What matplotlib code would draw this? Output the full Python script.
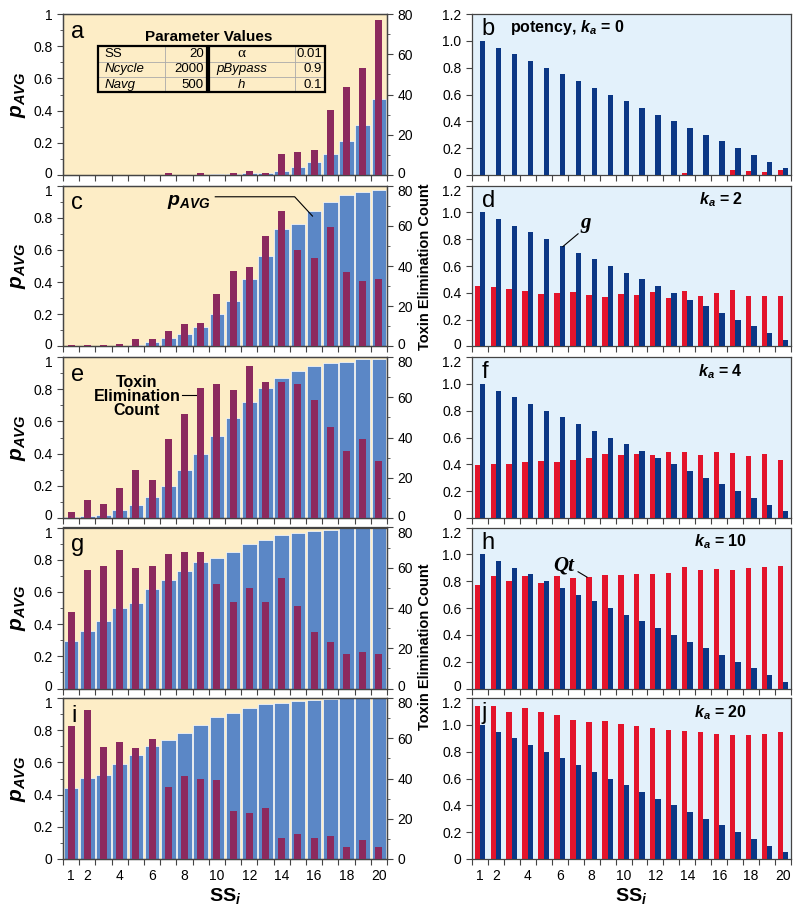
import numpy as np
import matplotlib
matplotlib.use("Agg")
import matplotlib.pyplot as plt
import matplotlib.transforms as mtrans
from matplotlib.patches import Rectangle

plt.rcParams['font.family'] = ['Liberation Sans', 'DejaVu Sans']
plt.rcParams['mathtext.fontset'] = 'custom'
plt.rcParams['mathtext.rm'] = 'Liberation Sans'
plt.rcParams['mathtext.it'] = 'Liberation Sans:italic'
plt.rcParams['mathtext.bf'] = 'Liberation Sans:bold'
plt.rcParams['mathtext.bfit'] = 'Liberation Sans:bold:italic'

# 数据
ss = np.arange(1, 21)
xlab_pos = [1, 2, 4, 6, 8, 10, 12, 14, 16, 18, 20]
xlab_txt = ['1', '2', '4', '6', '8', '10', '12', '14', '16', '18', '20']

# left column: pAVG (blue) and toxin elimination count (purple)
p_a = [0, 0, 0, 0, 0, 0, 0, 0, 0, 0.005, 0.005, 0.01, 0.015, 0.025, 0.05, 0.08, 0.13, 0.21, 0.31, 0.47]
cnt_a = [0, 0, 0, 0, 0, 0, 1.2, 0, 1, 0, 1, 2, 1, 10.3, 11.3, 12.3, 32.5, 43.7, 53.3, 76.8]
p_c = [0, 0, 0.003, 0.005, 0.01, 0.03, 0.05, 0.08, 0.12, 0.2, 0.28, 0.42, 0.56, 0.73, 0.76, 0.84, 0.9, 0.94, 0.96, 0.97]
cnt_c = [0.7, 0.7, 0.7, 1.3, 3.5, 3.5, 7.5, 11.2, 11.7, 26, 37.7, 39.4, 55, 67.3, 47.8, 44, 59.2, 36.9, 32.7, 33.6]
p_e = [0.005, 0.01, 0.02, 0.05, 0.08, 0.13, 0.2, 0.3, 0.4, 0.51, 0.62, 0.72, 0.81, 0.87, 0.91, 0.945, 0.96, 0.97, 0.985, 0.99]
cnt_e = [3, 9, 7, 15, 24, 19, 39.3, 51.5, 64.4, 66.6, 63.6, 75.6, 67.6, 67.6, 66.8, 58.6, 45.2, 33.3, 39.2, 28.1]
p_g = [0.296, 0.356, 0.42, 0.5, 0.53, 0.615, 0.675, 0.73, 0.785, 0.81, 0.85, 0.895, 0.92, 0.955, 0.967, 0.977, 0.985, 0.995, 1.0, 1.0]
cnt_g = [37.8, 59, 61, 69, 60, 61, 67, 68, 68, 52, 43, 50, 43, 55, 41, 28, 23, 17, 18, 17]
p_i = [0.44, 0.506, 0.523, 0.587, 0.645, 0.7, 0.74, 0.784, 0.83, 0.884, 0.909, 0.94, 0.96, 0.97, 0.98, 0.99, 0.995, 1.0, 1.0, 1.0]
cnt_i = [66.3, 73.8, 55.7, 57.9, 55.2, 59.7, 35.8, 41.1, 39.8, 39.1, 23.7, 23, 25.2, 10.3, 12.3, 10.3, 11.6, 6.1, 9.6, 6.1]

# right column: potency g (navy) and Qt (red)
g_pot = [1.0, 0.95, 0.9, 0.85, 0.8, 0.75, 0.7, 0.65, 0.6, 0.55, 0.5, 0.45, 0.4, 0.35, 0.3, 0.25, 0.2, 0.15, 0.1, 0.05]
qt_b = [0, 0, 0, 0, 0, 0, 0, 0, 0, 0, 0, 0, 0, 0.015, 0, 0, 0.037, 0.03, 0.022, 0.04]
qt_d = [0.453, 0.44, 0.425, 0.41, 0.39, 0.396, 0.403, 0.386, 0.368, 0.39, 0.386, 0.403, 0.358, 0.41, 0.38, 0.398, 0.42, 0.378, 0.378, 0.376]
qt_f = [0.393, 0.4, 0.4, 0.415, 0.422, 0.415, 0.43, 0.447, 0.48, 0.47, 0.475, 0.467, 0.49, 0.49, 0.472, 0.49, 0.485, 0.462, 0.475, 0.43]
qt_h = [0.772, 0.84, 0.804, 0.839, 0.789, 0.836, 0.826, 0.829, 0.846, 0.849, 0.851, 0.851, 0.864, 0.904, 0.884, 0.889, 0.886, 0.899, 0.904, 0.916]
qt_j = [1.138, 1.143, 1.093, 1.123, 1.093, 1.073, 1.039, 1.024, 1.029, 1.009, 0.989, 0.974, 0.964, 0.952, 0.944, 0.934, 0.924, 0.927, 0.934, 0.944]

left_p = [p_a, p_c, p_e, p_g, p_i]
left_cnt = [cnt_a, cnt_c, cnt_e, cnt_g, cnt_i]
left_letters = ['a', 'c', 'e', 'g', 'i']
right_qt = [qt_b, qt_d, qt_f, qt_h, qt_j]
right_letters = ['b', 'd', 'f', 'h', 'j']
right_ka = ['0', '2', '4', '10', '20']

# table in panel a
tab_left = [('SS', '20', 'normal'), ('Ncycle', '2000', 'italic'), ('Navg', '500', 'italic')]
tab_right = [('α', '0.01', 'normal'), ('pBypass', '0.9', 'italic'), ('h', '0.1', 'italic')]

# 颜色
bg_left = '#fdedc6'
bg_right = '#e3f1fb'
c_pavg = '#5b87c6'
c_cnt = '#8c2a5e'
c_qt = '#e3142b'
c_g = '#0b3785'
c_spine = '#444444'

W, H = 800, 916
fig = plt.figure(figsize=(W / 100, H / 100), dpi=100)
tops = [14, 185.5, 357, 527.5, 698]
ph = 161


def add_ax(left_px, width_px, top_px):
    return fig.add_axes([left_px / W, 1 - (top_px + ph) / H, width_px / W, ph / H])


def style_x(ax, show_labels):
    ax.set_xlim(0.5, 20.5)
    ax.set_xticks(np.arange(0.5, 21.0, 1.0))
    ax.set_xticklabels([])
    ax.set_xticks(xlab_pos, minor=True)
    ax.set_xticklabels(xlab_txt if show_labels else [], minor=True)
    ax.tick_params(axis='x', which='minor', length=0, pad=7, labelsize=10)
    ax.tick_params(axis='x', which='major', length=4, direction='out', color=c_spine)


def style_spines(ax):
    for s in ax.spines.values():
        s.set_color(c_spine)
        s.set_linewidth(0.9)


def nudge_ends(axis, k):
    # 上下相邻面板的端点刻度标签稍微错开 (像素)
    ticks = axis.get_major_ticks()
    if k < 4:
        for lab in (ticks[0].label1, ticks[0].label2):
            lab.set_transform(lab.get_transform() + mtrans.ScaledTranslation(0, 3 / 100, fig.dpi_scale_trans))
    if k > 0:
        for lab in (ticks[-1].label1, ticks[-1].label2):
            lab.set_transform(lab.get_transform() + mtrans.ScaledTranslation(0, -4.5 / 100, fig.dpi_scale_trans))


pavg_lbl = r'$\mathbfit{p}_{\mathbfit{AVG}}$'

# 左列
for k in range(5):
    ax = add_ax(63, 324, tops[k])
    ax.set_facecolor(bg_left)
    ax.bar(ss, left_p[k], width=0.9, color=c_pavg, edgecolor='white', linewidth=0.5, zorder=2)
    ax.set_ylim(0, 1)
    ax.set_yticks([0, 0.2, 0.4, 0.6, 0.8, 1.0])
    ax.set_yticklabels(['0', '0.2', '0.4', '0.6', '0.8', '1'])
    ax.set_yticks([0.1, 0.3, 0.5, 0.7, 0.9], minor=True)
    ax.tick_params(axis='y', which='both', direction='out', color=c_spine, labelsize=10)
    ax.tick_params(axis='y', which='major', length=4)
    ax.tick_params(axis='y', which='minor', length=2.5)
    style_x(ax, k == 4)
    ax.set_ylabel(pavg_lbl, fontsize=15, labelpad=4)
    style_spines(ax)
    nudge_ends(ax.yaxis, k)

    ax2 = ax.twinx()
    ax2.bar(ss, left_cnt[k], width=0.42, color=c_cnt, zorder=3)
    ax2.set_ylim(0, 80)
    ax2.set_yticks([0, 20, 40, 60, 80])
    ax2.set_yticks([10, 30, 50, 70], minor=True)
    ax2.tick_params(axis='y', which='both', direction='out', color=c_spine, labelsize=10)
    ax2.tick_params(axis='y', which='major', length=4)
    ax2.tick_params(axis='y', which='minor', length=2.5)
    style_spines(ax2)
    nudge_ends(ax2.yaxis, k)

    ax.text(0.025, 0.89, left_letters[k], transform=ax.transAxes, fontsize=17,
            ha='left', va='center', zorder=5)

    if k == 0:
        ax.text(0.45, 0.855, 'Parameter Values', transform=ax.transAxes, fontsize=11,
                fontweight='bold', ha='center', va='center')
        rh = (0.8 - 0.5125) / 3
        for (x0, x1, xs, rows, lab_ha) in [(0.108, 0.444, 0.315, tab_left, 'left'),
                                           (0.451, 0.809, 0.716, tab_right, 'center')]:
            for r in range(1, 3):
                ax.plot([x0, x1], [0.8 - r * rh] * 2, transform=ax.transAxes,
                        color='#aaaaaa', lw=0.6, zorder=6)
            ax.plot([xs, xs], [0.5125, 0.8], transform=ax.transAxes, color='#aaaaaa', lw=0.6, zorder=6)
            ax.add_patch(Rectangle((x0, 0.5125), x1 - x0, 0.8 - 0.5125, transform=ax.transAxes,
                                   fill=False, edgecolor='black', lw=1.6, zorder=7))
            for r, (lab, val, sty) in enumerate(rows):
                yc = 0.8 - (r + 0.5) * rh
                if lab_ha == 'left':
                    ax.text(x0 + 0.02, yc, lab, transform=ax.transAxes, fontsize=9.5,
                            style=sty, ha='left', va='center', zorder=8)
                else:
                    fam = ['Liberation Serif'] if lab == 'α' else ['Liberation Sans']
                    ax.text(x0 + 0.10, yc, lab, transform=ax.transAxes, fontsize=11 if lab == 'α' else 9.5,
                            style=sty, family=fam, ha='center', va='center', zorder=8)
                ax.text(x1 - 0.01, yc, val, transform=ax.transAxes, fontsize=9.5,
                        ha='right', va='center', zorder=8)
    if k == 1:
        ax.text(9.6, 0.9, pavg_lbl, fontsize=14, ha='right', va='center', zorder=6)
        ax.plot([9.9, 14.8, 15.9], [0.93, 0.93, 0.81], color='black', lw=0.8, zorder=6)
    if k == 2:
        ax.text(5.07, 0.755, 'Toxin\nElimination\nCount', fontsize=11.5, fontweight='bold',
                ha='center', va='center', linespacing=0.95, zorder=6)
        ax.plot([7.84, 8.77], [0.764, 0.764], color='black', lw=0.8, zorder=6)
    if k == 4:
        ax.set_xlabel(r'$\mathbf{SS}_{\mathbfit{i}}$', fontsize=14, labelpad=2)

# 右列
for k in range(5):
    ax = add_ax(472, 319, tops[k])
    ax.set_facecolor(bg_right)
    ax.bar(ss - 0.17, right_qt[k], width=0.34, color=c_qt, zorder=2)
    ax.bar(ss + 0.17, g_pot, width=0.34, color=c_g, zorder=3)
    ax.set_ylim(0, 1.2)
    ax.set_yticks([0, 0.2, 0.4, 0.6, 0.8, 1.0, 1.2])
    ax.set_yticklabels(['0', '0.2', '0.4', '0.6', '0.8', '1.0', '1.2'])
    ax.tick_params(axis='y', direction='out', length=4, color=c_spine, labelsize=10)
    style_x(ax, k == 4)
    style_spines(ax)
    nudge_ends(ax.yaxis, k)
    ax.text(0.03, 0.905, right_letters[k], transform=ax.transAxes, fontsize=17,
            ha='left', va='center', zorder=5)
    ka = r'$\mathbfit{k}_{\mathbfit{a}}$ = ' + right_ka[k]
    if k == 0:
        ax.text(0.12, 0.915, 'potency, ' + ka, transform=ax.transAxes, fontsize=11.5,
                fontweight='bold', ha='left', va='center')
    else:
        ax.text(0.78, 0.91, ka, transform=ax.transAxes, fontsize=11.5,
                fontweight='bold', ha='center', va='center')
    if k == 1:
        ax.text(7.65, 0.92, 'g', family=['Liberation Serif'], style='italic', fontweight='bold',
                fontsize=15, ha='center', va='center', zorder=6)
        ax.plot([7.15, 6.2], [0.84, 0.745], color='black', lw=0.8, zorder=6)
    if k == 3:
        ax.text(6.27, 0.92, 'Qt', family=['Liberation Serif'], style='italic', fontweight='bold',
                fontsize=15, ha='center', va='center', zorder=6)
        ax.plot([7.15, 7.71], [0.87, 0.83], color='black', lw=0.8, zorder=6)
    if k == 4:
        ax.set_xlabel(r'$\mathbf{SS}_{\mathbfit{i}}$', fontsize=14, labelpad=2)

for yc in [267, 647]:
    fig.text(425 / W, 1 - yc / H, 'Toxin Elimination Count', rotation=90, fontsize=10.5,
             fontweight='bold', ha='center', va='center')

fig.savefig('out.png', dpi=100)
